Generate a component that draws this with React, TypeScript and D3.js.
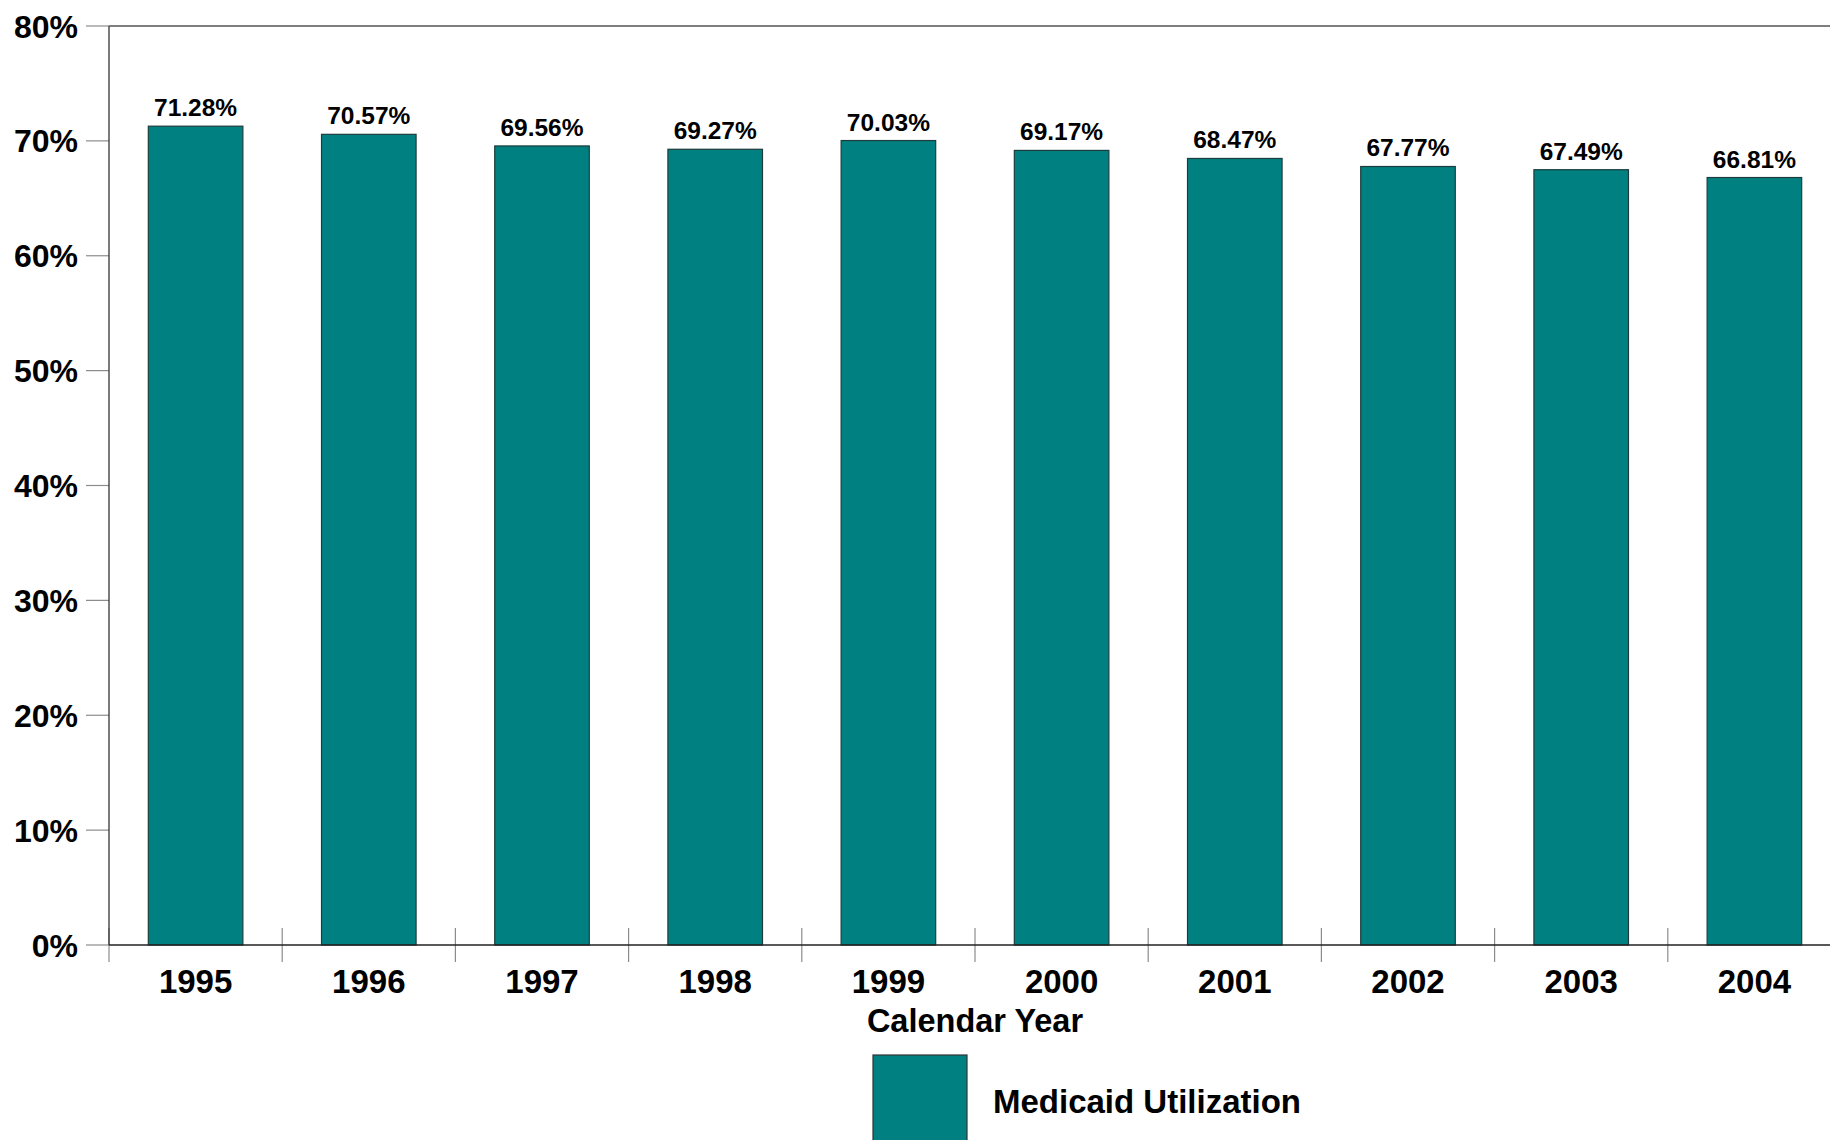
import React from "react";
import * as d3 from "d3";

const years = ["1995", "1996", "1997", "1998", "1999", "2000", "2001", "2002", "2003", "2004"];
const utilization = [71.28, 70.57, 69.56, 69.27, 70.03, 69.17, 68.47, 67.77, 67.49, 66.81];
const yTicks = [0, 10, 20, 30, 40, 50, 60, 70, 80];
const seriesName = "Medicaid Utilization";
const xTitle = "Calendar Year";

const W = 1830;
const H = 1140;
const FONT = "'Liberation Sans', Arial, Helvetica, sans-serif";
const TEAL = "#008080";

export default function App() {
  const left = 109;
  const top = 26;
  const bottom = 945;
  const step = 173.2;
  const pad = 0.454;
  const x = d3
    .scaleBand<string>()
    .domain(years)
    .range([left, left + step * years.length])
    .paddingInner(pad)
    .paddingOuter(pad / 2);
  const y = d3.scaleLinear().domain([0, 80]).range([bottom, top]);
  const st = x.step();

  return (
    <svg
      width={W}
      height={H}
      style={{ position: "absolute", left: 0, top: 0, background: "#fff" }}
      fontFamily={FONT}
    >
      <rect x={0} y={0} width={W} height={H} fill="#fff" />
      {/* y ticks */}
      {yTicks.map((t) => (
        <g key={t}>
          <line x1={86} x2={left} y1={y(t)} y2={y(t)} stroke="#8c8c8c" strokeWidth={1.2} />
          <text
            x={78}
            y={y(t)}
            dy="0.36em"
            textAnchor="end"
            fontSize={32}
            fontWeight="bold"
            fill="#000"
          >
            {t}%
          </text>
        </g>
      ))}
      {/* x boundary ticks */}
      {years.map((yr, i) => (
        <line
          key={"t" + yr}
          x1={left + i * st}
          x2={left + i * st}
          y1={bottom - 17}
          y2={bottom + 17}
          stroke="#8c8c8c"
          strokeWidth={1.2}
        />
      ))}
      {/* bars */}
      {years.map((yr, i) => (
        <g key={yr}>
          <rect
            x={x(yr)}
            y={y(utilization[i])}
            width={x.bandwidth()}
            height={bottom - y(utilization[i])}
            fill={TEAL}
            stroke="#1e3c3c"
            strokeWidth={1.2}
          />
          <text
            x={(x(yr) as number) + x.bandwidth() / 2}
            y={y(utilization[i]) - 10}
            textAnchor="middle"
            fontSize={24.5}
            fontWeight="bold"
            fill="#000"
          >
            {utilization[i].toFixed(2)}%
          </text>
          <text
            x={(x(yr) as number) + x.bandwidth() / 2}
            y={993}
            textAnchor="middle"
            fontSize={33}
            fontWeight="bold"
            fill="#000"
          >
            {yr}
          </text>
        </g>
      ))}
      {/* axes frame */}
      <line x1={left} x2={left} y1={top} y2={bottom} stroke="#333" strokeWidth={1.3} />
      <line x1={left} x2={W} y1={top} y2={top} stroke="#555" strokeWidth={1.3} />
      <line x1={left} x2={W} y1={bottom} y2={bottom} stroke="#222" strokeWidth={1.5} />
      <text
        x={(left + left + st * years.length) / 2}
        y={1032}
        textAnchor="middle"
        fontSize={32.5}
        fontWeight="bold"
        fill="#000"
      >
        {xTitle}
      </text>
      {/* legend */}
      <rect x={873} y={1055} width={94} height={95} fill={TEAL} stroke="#333" strokeWidth={1.2} />
      <text x={993} y={1113} fontSize={33} fontWeight="bold" fill="#000">
        {seriesName}
      </text>
    </svg>
  );
}
